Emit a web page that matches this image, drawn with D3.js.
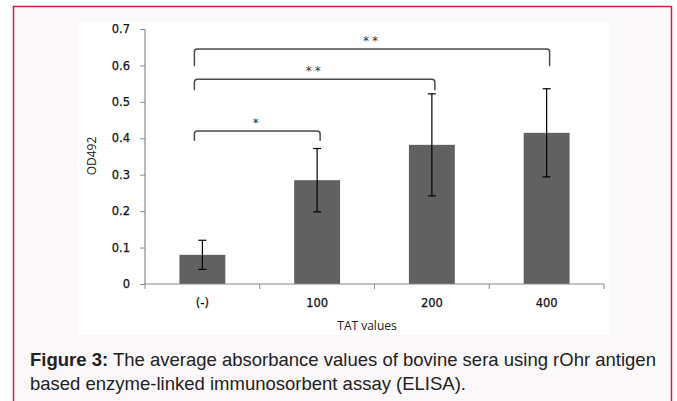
<!DOCTYPE html>
<html>
<head>
<script src="https://d3js.org/d3.v7.min.js"></script>
<style>
  body { margin: 0; background: #fff; }
</style>
</head>
<body>
<svg id="chart" width="677" height="401"></svg>
<script>
var categories = ["(-)", "100", "200", "400"];
var means = [0.08, 0.285, 0.382, 0.415];
var errors = [0.04, 0.087, 0.14, 0.121];
var yTicks = [0, 0.1, 0.2, 0.3, 0.4, 0.5, 0.6, 0.7];
// significance brackets: from category, to category, label
var brackets = [
  { from: "(-)", to: "100", label: "*", top: 0.42, drop: 0.027 },
  { from: "(-)", to: "200", label: "**", top: 0.562, drop: 0.03 },
  { from: "(-)", to: "400", label: "**", top: 0.645, drop: 0.047 }
];

var svg = d3.select("#chart");

// outer frame
svg.append("rect").attr("x", 0).attr("y", 0).attr("width", 677).attr("height", 401).attr("fill", "#fff");
svg.append("rect")
  .attr("x", 13.5).attr("y", 6.5).attr("width", 658).attr("height", 420)
  .attr("fill", "#fbf8fa").attr("stroke", "#c8234e").attr("stroke-width", 1.5);
// chart panel
svg.append("rect")
  .attr("x", 79).attr("y", 22).attr("width", 530).attr("height", 313)
  .attr("fill", "#ffffff");

var x = d3.scaleBand().domain(categories).range([145, 604]).paddingInner(0.6).paddingOuter(0.3);
var xTicks = d3.scaleBand().domain(categories).range([145, 604]);
var y = d3.scaleLinear().domain([0, 0.7]).range([284, 29]);

var g = svg.append("g");

// bars
g.selectAll("rect.bar").data(means).enter().append("rect")
  .attr("class", "bar")
  .attr("x", function (d, i) { return x(categories[i]); })
  .attr("width", x.bandwidth())
  .attr("y", function (d) { return y(d); })
  .attr("height", function (d) { return y(0) - y(d); })
  .attr("fill", "#616161");

// error bars
var eb = g.selectAll("g.err").data(means).enter().append("g").attr("class", "err")
  .attr("stroke", "#000").attr("stroke-width", 1.2);
eb.append("line")
  .attr("x1", function (d, i) { return x(categories[i]) + x.bandwidth() / 2; })
  .attr("x2", function (d, i) { return x(categories[i]) + x.bandwidth() / 2; })
  .attr("y1", function (d, i) { return y(d + errors[i]); })
  .attr("y2", function (d, i) { return y(d - errors[i]); });
[1, -1].forEach(function (s) {
  eb.append("line")
    .attr("x1", function (d, i) { return x(categories[i]) + x.bandwidth() / 2 - 4; })
    .attr("x2", function (d, i) { return x(categories[i]) + x.bandwidth() / 2 + 4; })
    .attr("y1", function (d, i) { return y(d + s * errors[i]); })
    .attr("y2", function (d, i) { return y(d + s * errors[i]); });
});

// axes
var yAxis = d3.axisLeft(y).tickValues(yTicks).tickSize(5)
  .tickFormat(function (d) { return d === 0 ? "0" : d3.format(".1f")(d); });
var ya = svg.append("g").attr("transform", "translate(145,0)").call(yAxis);
var xAxis = d3.axisBottom(xTicks).tickSize(0).tickPadding(15);
var xa = svg.append("g").attr("transform", "translate(0,284)").call(xAxis);
xa.selectAll(".tick line").remove();
// x tick marks at band boundaries
xa.selectAll("line.bound").data(categories.concat(["end"])).enter().append("line")
  .attr("x1", function (d, i) { return i < categories.length ? xTicks(d) : 604; })
  .attr("x2", function (d, i) { return i < categories.length ? xTicks(d) : 604; })
  .attr("y1", 0).attr("y2", 5).attr("stroke", "#8a8a8a");
[ya, xa].forEach(function (a) {
  a.select(".domain").attr("stroke", "#8a8a8a").attr("stroke-width", 1.2);
  a.selectAll(".tick line").attr("stroke", "#8a8a8a");
  a.selectAll("text").attr("font-family", "DejaVu Sans, Verdana, sans-serif")
    .attr("font-size", 11.5).attr("fill", "#111")
    .attr("stroke", "#111").attr("stroke-width", 0.25);
});
ya.select(".domain").attr("d", "M0,284V29");
xa.select(".domain").attr("d", "M145,0H604");
ya.selectAll(".tick text").attr("x", -15);

// axis titles
svg.append("text")
  .attr("transform", "translate(96,156) rotate(-90)")
  .attr("text-anchor", "middle")
  .attr("font-family", "Open Sans, Lato, sans-serif")
  .attr("font-size", 12).attr("fill", "#222")
  .text("OD492");
svg.append("text")
  .attr("x", 367).attr("y", 330)
  .attr("text-anchor", "middle")
  .attr("font-family", "Open Sans, Lato, sans-serif")
  .attr("font-size", 12).attr("fill", "#222")
  .text("TAT values");

// significance brackets
var bg = svg.append("g");
brackets.forEach(function (b) {
  var x1 = x(b.from) + x.bandwidth() / 2 - 8;
  var x2 = x(b.to) + x.bandwidth() / 2 + 3;
  var yt = y(b.top), yb = y(b.top - b.drop), r = 3;
  bg.append("path")
    .attr("d", "M" + x1 + "," + yb + "V" + (yt + r) + "Q" + x1 + "," + yt + " " + (x1 + r) + "," + yt +
      "H" + (x2 - r) + "Q" + x2 + "," + yt + " " + x2 + "," + (yt + r) + "V" + yb)
    .attr("fill", "none").attr("stroke", "#4a4a4a").attr("stroke-width", 1.5);
  bg.append("text")
    .attr("x", (x1 + x2) / 2).attr("y", yt - 4)
    .attr("text-anchor", "middle")
    .attr("font-family", "DejaVu Sans, sans-serif")
    .attr("font-size", 12).attr("fill", "#333")
    .attr("letter-spacing", 3)
    .text(b.label);
});

// caption
var cap = svg.append("text")
  .attr("x", 30).attr("y", 366)
  .attr("font-family", "Liberation Sans, Arial, sans-serif")
  .attr("font-size", 18.5).attr("fill", "#222");
cap.append("tspan").attr("font-weight", "bold").text("Figure 3:");
cap.append("tspan").text(" The average absorbance values of bovine sera using rOhr antigen");
svg.append("text")
  .attr("x", 30).attr("y", 390)
  .attr("font-family", "Liberation Sans, Arial, sans-serif")
  .attr("font-size", 18.5).attr("fill", "#222")
  .text("based enzyme-linked immunosorbent assay (ELISA).");
</script>
</body>
</html>
